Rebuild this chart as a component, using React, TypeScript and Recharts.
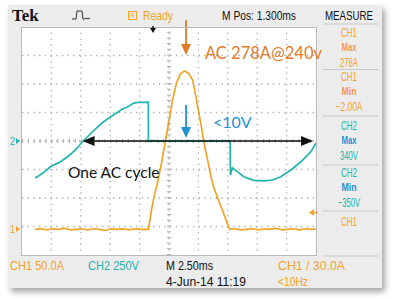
import React from "react";
import {
  CartesianGrid,
  Line,
  LineChart,
  ReferenceDot,
  ReferenceLine,
  XAxis,
  YAxis,
} from "recharts";

// 2.50 ms/div, M Pos 1.300 ms -> ten divisions across the screen
const timeGrid = [-11.2, -8.7, -6.2, -3.7, -1.2, 1.3, 3.8, 6.3, 8.8, 11.3, 13.8];
// CH2 250 V/div with ground on the centre line
const voltGrid = [-1000, -750, -500, -250, 0, 250, 500, 750, 1000];

// CH1 current, 50 A/div (ground marker 3.1 div below centre)
const ch1Time = [
  -10.1, -9.6, -9.1, -8.6, -8.1, -7.6, -7.1, -6.6, -6.1, -5.6, -5.1, -4.6, -4.1, -3.6,
  -3.1, -2.6, -2.1, -1.6, -1.1, -0.45, -0.19, 0.06, 0.32, 0.66, 1.0, 1.34, 1.6, 1.94,
  2.28, 2.62, 2.96, 3.31, 3.56, 3.82, 4.07, 4.24, 4.58, 4.84, 5.1, 5.44, 5.78, 6.12,
  6.46, 6.9, 7.4, 7.9, 8.4, 8.9, 9.4, 9.9, 10.4, 10.9, 11.4, 11.9, 12.4, 12.9, 13.4, 13.8,
];
const ch1Amps = [
  0, 1, -1, 1, 0, 2, -1, 0, 1, -1, 1, 0, -2, 1,
  0, 1, -1, 1, 0, 0, 34, 60, 81, 116, 155, 195, 227, 257,
  273, 278, 274, 262, 236, 206, 178, 155, 122, 95, 74, 55, 37, 18,
  0, 1, -1, 0, 1, -1, 1, 0, 2, -1, 0, 1, -1, 1, 0, 1,
];

// CH2 voltage
const ch2Time = [
  -10.09, -9.66, -9.24, -8.81, -8.38, -7.96, -7.36, -6.93, -6.51, -6.08, -5.65, -5.23,
  -4.8, -4.29, -3.69, -3.09, -2.67, -2.24, -1.73, -1.3, -0.88, -0.46, -0.45, 0.0, 0.5,
  1.0, 1.5, 2.0, 2.5, 3.0, 3.5, 4.0, 4.5, 5.0, 5.5, 6.0, 6.5, 6.52, 6.69, 7.12, 7.66,
  8.51, 9.36, 10.1, 10.81, 11.67, 12.52, 13.37, 13.8,
];
const ch2Volts = [
  -325, -298, -266, -228, -205, -184, -140, -105, -61, -9, 35, 79,
  120, 167, 211, 250, 281, 298, 330, 340, 338, 340, -5, 3, -4,
  2, -3, 4, -2, 3, -4, 2, -3, 4, -2, 3, 0, -298, -237, -269, -313,
  -345, -350, -342, -313, -254, -182, -94, -18,
];

// measurement readouts
const measureChannel = ["CH1", "CH1", "CH2", "CH2"];
const measureKind = ["Max", "Min", "Max", "Min"];
const measureValue = ["278A", "\u22122.00A", "340V", "\u2212350V"];

// annotation positions (data units)
const peakArrow = { t: 2.75, fromA: 367, toA: 306 };
const clampArrow = { t: 2.75, fromV: 316, toV: 26 };
const cycleArrow = { from: -6.05, to: 13.55 };

const ORANGE = "#f3a328";
const TEAL = "#22b4ae";
const BLUE = "#1e93d3";
const NOTE = "#e27b27";
const GRID = "#ababab";

// graticule box
const PLOT = { left: 22, top: 27, width: 294, height: 228 };
const vPoints = timeGrid
  .slice(1, -1)
  .map((_, i) => PLOT.left + ((i + 1) * PLOT.width) / (timeGrid.length - 1));
const hPoints = voltGrid
  .slice(1, -1)
  .map((_, i) => PLOT.top + ((i + 1) * PLOT.height) / (voltGrid.length - 1));

const ch1Data = ch1Time.map((t, i) => ({ t, a: ch1Amps[i] }));
const ch2Data = ch2Time.map((t, i) => ({ t, v: ch2Volts[i] }));

const sans = "'Liberation Sans', Arial, sans-serif";
const note = "Lato, 'Open Sans', sans-serif";

const headDown = (color: string) => (p: any) => (
  <polygon
    points={`${p.cx},${p.cy} ${p.cx - 5},${p.cy - 11} ${p.cx + 5},${p.cy - 11}`}
    fill={color}
  />
);
const headLeft = (p: any) => (
  <polygon points={`${p.cx},${p.cy} ${p.cx + 12},${p.cy - 5} ${p.cx + 12},${p.cy + 5}`} fill="#111" />
);
const headRight = (p: any) => (
  <polygon points={`${p.cx},${p.cy} ${p.cx - 12},${p.cy - 5} ${p.cx - 12},${p.cy + 5}`} fill="#111" />
);

const measureRows = [32, 76, 125, 172];

// narrow scope-style text squeezed to a given width
const Narrow = ({ x, y, w, size = 12, fill = "#111", anchor = "start", bold = false, children }: any) => (
  <text
    x={x}
    y={y}
    textLength={w}
    lengthAdjust="spacingAndGlyphs"
    textAnchor={anchor}
    fontFamily={sans}
    fontSize={size}
    fontWeight={bold ? "bold" : "normal"}
    fill={fill}
  >
    {children}
  </text>
);

export default function App() {
  return (
    <div style={{ position: "absolute", left: 0, top: 0, width: 400, height: 299, background: "#fff" }}>
      <div
        style={{
          position: "absolute",
          left: 8,
          top: 5,
          width: 374,
          height: 283,
          background: "#ececec",
          boxShadow: "3px 4px 6px rgba(0,0,0,0.35)",
        }}
      />
      <div style={{ position: "absolute", left: 0, top: 0 }}>
        <LineChart
          width={400}
          height={299}
          margin={{ top: PLOT.top, right: 400 - PLOT.left - PLOT.width, bottom: 299 - PLOT.top - PLOT.height, left: PLOT.left }}
        >
          <CartesianGrid
            fill="#fff"
            stroke={GRID}
            strokeWidth={1.3}
            strokeDasharray="1.3 4.4"
            verticalPoints={vPoints}
            horizontalPoints={hPoints}
          />
          <XAxis type="number" dataKey="t" domain={[-11.2, 13.8]} ticks={timeGrid} hide allowDataOverflow />
          <YAxis yAxisId="ch1" type="number" domain={[-45, 355]} hide allowDataOverflow />
          <YAxis yAxisId="ch2" type="number" domain={[-1000, 1000]} ticks={voltGrid} hide allowDataOverflow />
          <ReferenceLine x={1.3} yAxisId="ch2" stroke={GRID} strokeWidth={4} strokeDasharray="1 4.7" />
          <ReferenceLine y={0} yAxisId="ch2" stroke={GRID} strokeWidth={4} strokeDasharray="1 4.88" />
          <Line
            data={ch2Data}
            dataKey="v"
            yAxisId="ch2"
            type="linear"
            stroke={TEAL}
            strokeWidth={1.7}
            dot={false}
            isAnimationActive={false}
          />
          <Line
            data={ch1Data}
            dataKey="a"
            yAxisId="ch1"
            type="linear"
            stroke={ORANGE}
            strokeWidth={1.7}
            dot={false}
            isAnimationActive={false}
          />
          <ReferenceLine
            yAxisId="ch2"
            segment={[
              { x: cycleArrow.from + 0.5, y: 0 },
              { x: cycleArrow.to - 0.5, y: 0 },
            ]}
            stroke="#111"
            strokeWidth={1.6}
          />
          <ReferenceDot yAxisId="ch2" x={cycleArrow.from} y={0} shape={headLeft} />
          <ReferenceDot yAxisId="ch2" x={cycleArrow.to} y={0} shape={headRight} />
          <ReferenceLine
            yAxisId="ch1"
            ifOverflow="visible"
            segment={[
              { x: peakArrow.t, y: peakArrow.fromA },
              { x: peakArrow.t, y: peakArrow.toA + 12 },
            ]}
            stroke={NOTE}
            strokeWidth={1.8}
          />
          <ReferenceDot yAxisId="ch1" ifOverflow="visible" x={peakArrow.t} y={peakArrow.toA} shape={headDown(NOTE)} />
          <ReferenceLine
            yAxisId="ch2"
            segment={[
              { x: clampArrow.t, y: clampArrow.fromV },
              { x: clampArrow.t, y: clampArrow.toV + 60 },
            ]}
            stroke={BLUE}
            strokeWidth={1.8}
          />
          <ReferenceDot yAxisId="ch2" x={clampArrow.t} y={clampArrow.toV} shape={headDown(BLUE)} />
        </LineChart>
      </div>
      <div
        style={{
          position: "absolute",
          left: PLOT.left - 1,
          top: PLOT.top,
          width: PLOT.width,
          height: PLOT.height - 1,
          border: "1px solid #b9b9b9",
          pointerEvents: "none",
        }}
      />
      <svg width={400} height={299} style={{ position: "absolute", left: 0, top: 0, pointerEvents: "none" }}>
        {/* header */}
        <text x={12} y={21} fontFamily="'Liberation Serif', serif" fontWeight="bold" fontSize={17} fill="#111">
          Tek
        </text>
        <polyline
          points="72,19 76,19 77,11 82,11 83,19 85,19 86,18 88,19 90,18"
          fill="none"
          stroke="#333"
          strokeWidth={1}
        />
        <rect x={128.5} y={11.5} width={8} height={8} fill="none" stroke={ORANGE} strokeWidth={1} />
        <Narrow x={132.5} y={18.3} w={4} size={7.5} fill={ORANGE} anchor="middle">
          R
        </Narrow>
        <Narrow x={143} y={20} w={30} size={13} fill={ORANGE}>
          Ready
        </Narrow>
        <Narrow x={222} y={20} w={74} size={13}>
          M Pos: 1.300ms
        </Narrow>
        <Narrow x={349} y={20} w={48} size={13} anchor="middle">
          MEASURE
        </Narrow>
        <polygon points="150,28 156,28 153,33" fill="#111" />
        <line x1={153} y1={26} x2={153} y2={29} stroke="#111" strokeWidth={1.5} />

        {/* measurement column */}
        {[24, 69.5, 116, 165, 211, 256].map((y) => (
          <line key={y} x1={323} x2={378} y1={y} y2={y} stroke="#c8c8c8" strokeWidth={1.2} />
        ))}
        {measureRows.map((y, i) => {
          const isCh1 = measureChannel[i] === "CH1";
          const main = isCh1 ? ORANGE : TEAL;
          const kind = isCh1 ? "#f0955a" : BLUE;
          const valueW = measureValue[i].length * 4.5;
          return (
            <g key={i}>
              <Narrow x={349} y={y + 4.5} w={16} size={12.5} fill={main} anchor="middle">
                {measureChannel[i]}
              </Narrow>
              <Narrow x={349} y={y + 19} w={15} size={10.5} bold fill={kind} anchor="middle">
                {measureKind[i]}
              </Narrow>
              <Narrow x={349} y={y + 35} w={valueW} size={12.5} fill={main} anchor="middle">
                {measureValue[i]}
              </Narrow>
            </g>
          );
        })}
        <Narrow x={349} y={226} w={16} size={12.5} fill={ORANGE} anchor="middle">
          CH1
        </Narrow>

        {/* channel markers */}
        <Narrow x={10} y={145} w={5} size={11} fill={TEAL}>
          2
        </Narrow>
        <polygon points="16,138 20,141 16,144" fill={TEAL} />
        <Narrow x={10} y={233} w={5} size={11} fill={ORANGE}>
          1
        </Narrow>
        <polygon points="16,226 20,229 16,232" fill={ORANGE} />
        <polygon points="309,212.5 314,209 314,216" fill={ORANGE} />
        <line x1={313} y1={212.5} x2={318} y2={212.5} stroke={ORANGE} strokeWidth={1.5} />

        {/* annotations */}
        <text x={205} y={59} fontFamily={note} fontSize={16.5} fill={NOTE}>
          AC 278A@240v
        </text>
        <text x={213} y={128} fontFamily={note} fontSize={16} fill={BLUE}>
          {"<10V"}
        </text>
        <text x={68} y={178} fontFamily={note} fontSize={15.5} fill="#111">
          One AC cycle
        </text>

        {/* footer */}
        <Narrow x={10} y={270} w={54} size={13} fill={ORANGE}>
          CH1  50.0A
        </Narrow>
        <Narrow x={88} y={270} w={51} size={13} fill={TEAL}>
          CH2  250V
        </Narrow>
        <Narrow x={166} y={270} w={47} size={13}>
          M 2.50ms
        </Narrow>
        <Narrow x={166} y={286} w={80} size={13}>
          4-Jun-14 11:19
        </Narrow>
        <Narrow x={278} y={270} w={67} size={13} fill={ORANGE}>
          CH1 / 30.0A
        </Narrow>
        <Narrow x={278} y={286} w={30} size={13} fill={ORANGE}>
          {"<10Hz"}
        </Narrow>
      </svg>
    </div>
  );
}
